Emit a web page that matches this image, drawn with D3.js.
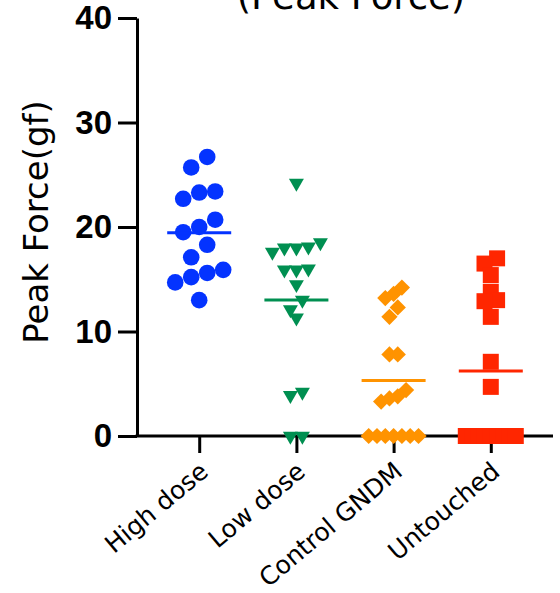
<!DOCTYPE html>
<html>
<head>
<meta charset="utf-8">
<script src="https://cdn.jsdelivr.net/npm/d3@7"></script>
<style>
  body { margin: 0; background: #fff; }
</style>
</head>
<body>
<div id="chart"></div>
<script>
// data (gf)
const categories = ["High dose", "Low dose", "Control GNDM", "Untouched"];
const highDose = [26.7, 25.7, 23.4, 22.7, 23.3, 20.7, 20.0, 19.5, 18.3, 17.1, 15.9, 15.2, 15.6, 14.7, 13.0];
const lowDose = [24.2, 18.5, 18.1, 18.0, 18.0, 17.6, 16.0, 15.9, 15.9, 14.5, 13.0, 12.1, 11.3, 4.2, 3.9, 0, 0];
const controlGNDM = [14.2, 13.6, 13.2, 12.3, 11.4, 7.8, 7.8, 4.4, 3.8, 3.6, 3.3, 0, 0, 0, 0, 0, 0, 0];
const untouched = [17.0, 16.5, 15.4, 13.8, 13.0, 12.9, 11.4, 7.1, 4.7, 0, 0, 0, 0, 0, 0, 0, 0, 0];
const yTicks = [0, 10, 20, 30, 40];

const width = 560;
const height = 593;
const margin = {t: 18, b: 157, l: 137, r: 7};

const svg = d3.select("#chart")
    .append("svg")
    .attr("width", width)
    .attr("height", height)
    .style("background-color", "white");

const xScale = d3.scalePoint()
    .domain(categories)
    .range([margin.l, width - margin.r])
    .padding(0.64);

const yScale = d3.scaleLinear()
    .domain([0, 40])
    .range([height - margin.b, margin.t]);

// groups: symbol + colour + how points spread in a row
const groups = [
    {name: categories[0], values: highDose, color: "#0433FF", symbol: d3.symbolCircle, size: 216, rotate: 0, spacing: 16, rowGap: 14},
    {name: categories[1], values: lowDose, color: "#008F51", symbol: d3.symbolTriangle, size: 97, rotate: 180, spacing: 12, rowGap: 12},
    {name: categories[2], values: controlGNDM, color: "#FF9300", symbol: d3.symbolSquare, size: 132, rotate: 45, spacing: 8.3, rowGap: 12},
    {name: categories[3], values: untouched, color: "#FF2600", symbol: d3.symbolSquare, size: 256, rotate: 0, spacing: 12.6, rowGap: 7.5}
];
const maxSpread = 50;

// prism-like scatter: close values share a row and spread symmetric
function swarm(values, spacing, rowGap) {
    const pts = values.map(v => ({v: v, py: yScale(v)}))
        .sort((a, b) => b.v - a.v);
    const rows = [];
    let cur = null;
    pts.forEach(p => {
        if (cur && p.py - cur.top <= rowGap) {
            cur.pts.push(p);
        } else {
            cur = {top: p.py, pts: [p]};
            rows.push(cur);
        }
    });
    rows.forEach(r => {
        const n = r.pts.length;
        const s = n > 1 ? Math.min(spacing, maxSpread / (n - 1)) : 0;
        r.pts.sort((a, b) => a.v - b.v);
        r.pts.forEach((p, k) => { p.dx = (k - (n - 1) / 2) * s; });
    });
    return pts;
}

// y axis
const y_axis = d3.axisLeft(yScale)
    .tickValues(yTicks)
    .tickSize(19)
    .tickSizeOuter(0)
    .tickPadding(6);
const gy = svg.append("g")
    .attr("class", "axis")
    .attr("transform", `translate(${margin.l}, 0)`)
    .call(y_axis);
gy.selectAll("path, line")
    .attr("stroke", "black")
    .attr("stroke-width", 3);
gy.selectAll("text")
    .attr("font-family", "Liberation Sans, Arial, sans-serif")
    .attr("font-weight", "bold")
    .attr("font-size", "33px")
    .attr("fill", "black");

// x axis
const x_axis = d3.axisBottom(xScale)
    .tickSize(17)
    .tickSizeOuter(0);
const gx = svg.append("g")
    .attr("class", "axis")
    .attr("transform", `translate(0, ${height - margin.b})`)
    .call(x_axis);
gx.select(".domain")
    .attr("d", `M${margin.l - 1.5},0H${width - margin.r}`);
gx.selectAll("path, line")
    .attr("stroke", "black")
    .attr("stroke-width", 3);
gx.selectAll("text")
    .attr("x", 0)
    .attr("y", 0)
    .attr("dy", 0)
    .attr("transform", "translate(10, 38) rotate(-40)")
    .attr("text-anchor", "end")
    .attr("font-family", "DejaVu Sans, sans-serif")
    .attr("font-size", "25px")
    .attr("fill", "black");

// y label
svg.append("text")
    .attr("transform", `translate(48, ${(margin.t + height - margin.b) / 2 - 5}) rotate(-90)`)
    .attr("text-anchor", "middle")
    .attr("font-family", "DejaVu Sans, sans-serif")
    .attr("font-size", "34px")
    .text("Peak Force(gf)");

// title, cut off at the top
svg.append("text")
    .attr("x", 351)
    .attr("y", 9)
    .attr("text-anchor", "middle")
    .attr("font-family", "DejaVu Sans, sans-serif")
    .attr("font-size", "37px")
    .text("(Peak Force)");

// points + mean lines
groups.forEach(g => {
    const cx = xScale(g.name);
    const pts = swarm(g.values, g.spacing, g.rowGap);
    const sym = d3.symbol().type(g.symbol).size(g.size);
    svg.append("g")
        .selectAll("path")
        .data(pts)
        .join("path")
        .attr("d", sym)
        .attr("transform", d => `translate(${cx + d.dx}, ${d.py}) rotate(${g.rotate})`)
        .attr("fill", g.color);

    const m = d3.mean(g.values);
    svg.append("line")
        .attr("x1", cx - 32)
        .attr("x2", cx + 32)
        .attr("y1", yScale(m))
        .attr("y2", yScale(m))
        .attr("stroke", g.color)
        .attr("stroke-width", 3);
});
</script>
</body>
</html>
